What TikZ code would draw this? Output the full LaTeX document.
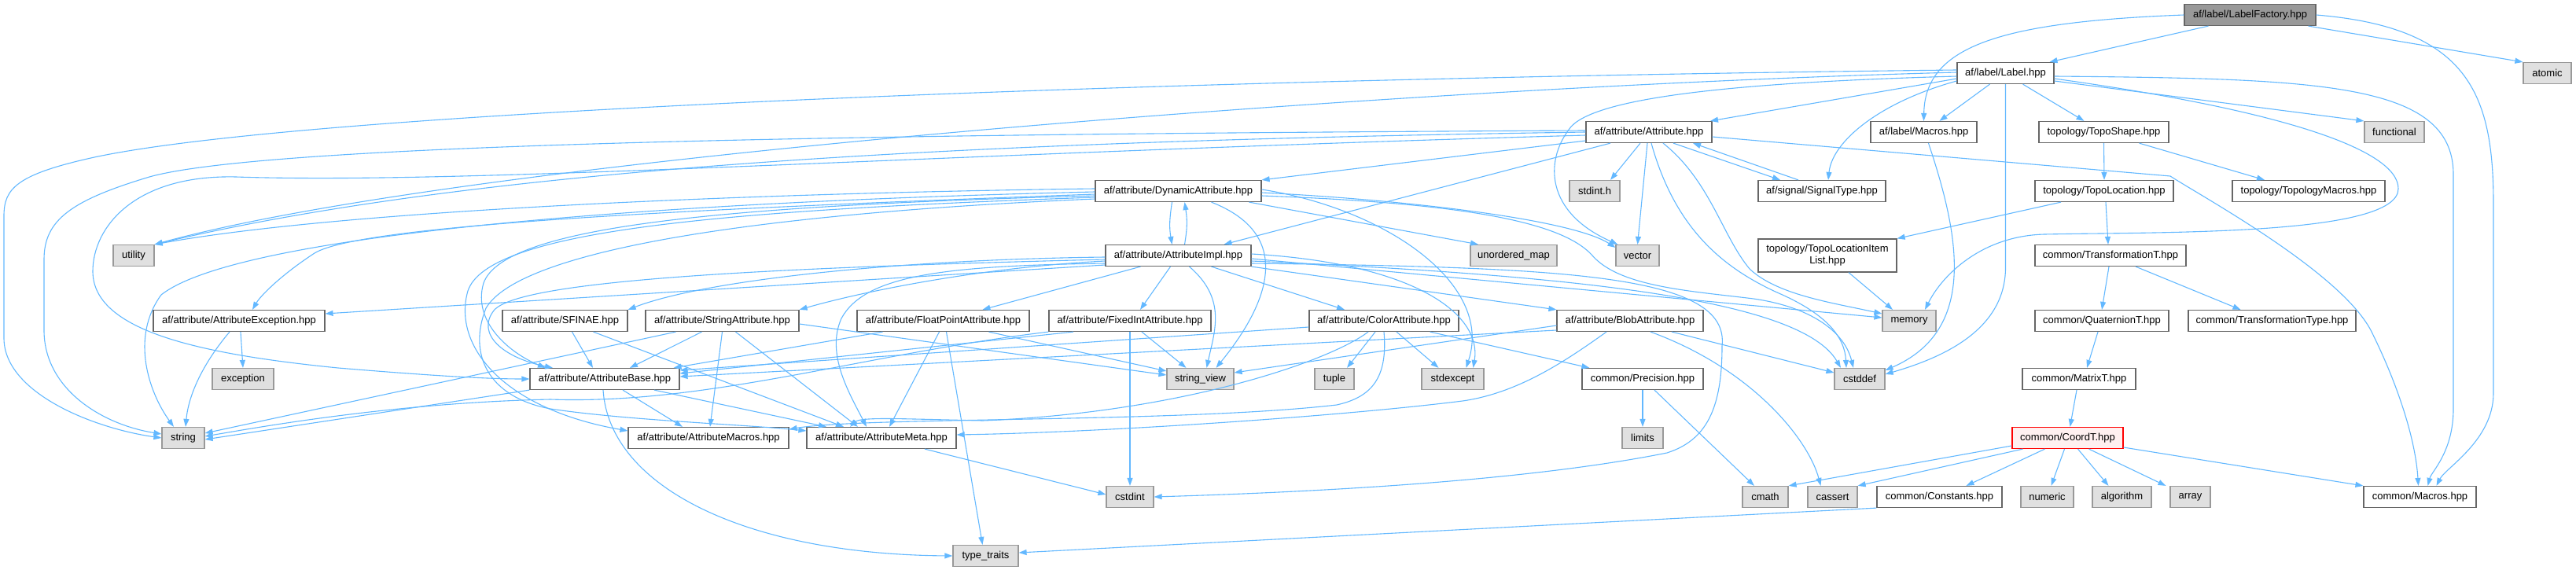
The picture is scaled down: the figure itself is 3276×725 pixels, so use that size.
\documentclass[tikz,border=0pt]{standalone}
\usepackage{fontspec}
\setmainfont{Liberation Sans}
\usetikzlibrary{arrows.meta}
\definecolor{edgeblue}{HTML}{63B8FF}
\definecolor{boxline}{HTML}{666666}
\definecolor{sysline}{HTML}{999999}
\definecolor{sysfill}{HTML}{E0E0E0}
\definecolor{topfill}{HTML}{999999}
\definecolor{focusfill}{HTML}{FFF0F0}
\begin{document}
\begin{tikzpicture}[x=1pt,y=-1pt,
  box/.style={rectangle,line width=1.2pt,inner sep=0pt,minimum height=27pt,font=\fontsize{13}{15}\selectfont},
  hdr/.style={box,draw=boxline,fill=white},
  sys/.style={box,draw=sysline,fill=sysfill},
  topbox/.style={box,draw=boxline,fill=topfill},
  focus/.style={box,draw=red,fill=focusfill},
  dep/.style={draw=edgeblue,line width=1.1pt,-{Triangle[length=10pt,width=7pt]}}]
\useasboundingbox (0,0) rectangle (3276,725);

\node[topbox, minimum width=167pt] (LabelFactory) at (2861.5,19) {af/label/LabelFactory.hpp};

\node[hdr, minimum width=123pt] (Label) at (2550.5,93) {af/label/Label.hpp};
\node[sys, minimum width=61pt] (atomic) at (3239.5,93) {atomic};

\node[hdr, minimum width=160pt] (Attribute) at (2097,168) {af/attribute/Attribute.hpp};
\node[hdr, minimum width=135pt] (LabelMacros) at (2446.5,168) {af/label/Macros.hpp};
\node[hdr, minimum width=165pt] (TopoShape) at (2675.5,168) {topology/TopoShape.hpp};
\node[sys, minimum width=76pt] (functional) at (3045,168) {functional};

\node[hdr, minimum width=211pt] (Dynamic) at (1498.5,243) {af/attribute/DynamicAttribute.hpp};
\node[sys, minimum width=64pt] (stdinth) at (2028,243) {stdint.h};
\node[hdr, minimum width=162pt] (SignalType) at (2317,243) {af/signal/SignalType.hpp};
\node[hdr, minimum width=176pt] (TopoLocation) at (2676,243) {topology/TopoLocation.hpp};
\node[hdr, minimum width=194pt] (TopologyMacros) at (2936,243) {topology/TopologyMacros.hpp};

\node[sys, minimum width=52pt] (utility) at (170,325) {utility};
\node[hdr, minimum width=185pt] (Impl) at (1498.5,325) {af/attribute/AttributeImpl.hpp};
\node[sys, minimum width=110pt] (unorderedmap) at (1925,325) {unordered\_map};
\node[sys, minimum width=55pt] (vector) at (2082.5,325) {vector};
\node[hdr, minimum width=176pt, minimum height=42pt, align=center] (ItemList) at (2324,325) {topology/TopoLocationItem\\List.hpp};
\node[hdr, minimum width=192pt] (TransformationT) at (2684,325) {common/TransformationT.hpp};

\node[hdr, minimum width=218pt] (Exception) at (304,408) {af/attribute/AttributeException.hpp};
\node[hdr, minimum width=159pt] (SFINAE) at (718.5,408) {af/attribute/SFINAE.hpp};
\node[hdr, minimum width=195pt] (StringAttr) at (918.5,408) {af/attribute/StringAttribute.hpp};
\node[hdr, minimum width=219pt] (FloatAttr) at (1199.5,408) {af/attribute/FloatPointAttribute.hpp};
\node[hdr, minimum width=206pt] (FixedAttr) at (1437,408) {af/attribute/FixedIntAttribute.hpp};
\node[hdr, minimum width=190pt] (ColorAttr) at (1760,408) {af/attribute/ColorAttribute.hpp};
\node[hdr, minimum width=186pt] (BlobAttr) at (2073,408) {af/attribute/BlobAttribute.hpp};
\node[sys, minimum width=68pt] (memory) at (2428,408) {memory};
\node[hdr, minimum width=170pt] (QuaternionT) at (2673,408) {common/QuaternionT.hpp};
\node[hdr, minimum width=213pt] (TransformationType) at (2889.5,408) {common/TransformationType.hpp};

\node[sys, minimum width=78pt] (exception) at (309,482) {exception};
\node[hdr, minimum width=190pt] (Base) at (769,482) {af/attribute/AttributeBase.hpp};
\node[sys, minimum width=85pt] (stringview) at (1526.5,482) {string\_view};
\node[sys, minimum width=50pt] (tuple) at (1697,482) {tuple};
\node[sys, minimum width=79pt] (stdexcept) at (1847.5,482) {stdexcept};
\node[hdr, minimum width=154pt] (Precision) at (2089,482) {common/Precision.hpp};
\node[sys, minimum width=64pt] (cstddef) at (2365,482) {cstddef};
\node[hdr, minimum width=144pt] (MatrixT) at (2644,482) {common/MatrixT.hpp};

\node[sys, minimum width=54pt] (string) at (233,557) {string};
\node[hdr, minimum width=204pt] (AttrMacros) at (901,557) {af/attribute/AttributeMacros.hpp};
\node[hdr, minimum width=190pt] (Meta) at (1121,557) {af/attribute/AttributeMeta.hpp};
\node[sys, minimum width=52pt] (limits) at (2089,557) {limits};
\node[focus, minimum width=141pt] (CoordT) at (2629.5,557) {common/CoordT.hpp};

\node[sys, minimum width=60pt] (cstdint) at (1437,632) {cstdint};
\node[sys, minimum width=58pt] (cmath) at (2245,632) {cmath};
\node[sys, minimum width=63pt] (cassert) at (2330.5,632) {cassert};
\node[hdr, minimum width=159pt] (Constants) at (2466.5,632) {common/Constants.hpp};
\node[sys, minimum width=67pt] (numeric) at (2603.5,632) {numeric};
\node[sys, minimum width=75pt] (algorithm) at (2698.5,632) {algorithm};
\node[sys, minimum width=51pt] (array) at (2785.5,632) {array};
\node[hdr, minimum width=143pt] (CommonMacros) at (3077.5,632) {common/Macros.hpp};

\node[sys, minimum width=83pt] (typetraits) at (1253.5,707) {type\_traits};

\draw[dep] ([xshift=-53pt]LabelFactory.south) -- ([xshift=56pt]Label.north);
\draw[dep] (LabelFactory.west) .. controls (2540,28) and (2448,60) .. (LabelMacros.north);
\draw[dep] ([xshift=74pt]LabelFactory.south) -- (atomic.north west);
\draw[dep] (LabelFactory.east) .. controls (3140,35) and (3171,120) .. (3171,260) -- (3171,500) .. controls (3171,560) and (3110,595) .. ([xshift=21pt]CommonMacros.north);

\draw[dep] ([yshift=-7pt]Label.west) -- ([xshift=78pt]Attribute.north);
\draw[dep] ([xshift=-20pt]Label.south) -- ([xshift=20pt]LabelMacros.north);
\draw[dep] ([xshift=22pt]Label.south) -- ([xshift=-25pt]TopoShape.north);
\draw[dep] ([yshift=-10pt]Label.east) -- (functional.north west);
\draw[dep] ([yshift=-7pt]Label.east) .. controls (2900,140) and (3050,190) .. (3050,240) .. controls (3050,300) and (2750,295) .. (2600,298) .. controls (2520,300) and (2470,350) .. ([xshift=20pt]memory.north);
\draw[dep] ([yshift=-4pt]Label.east) .. controls (2950,100) and (3118,105) .. (3120,220) -- (3120,520) .. controls (3120,575) and (3092,600) .. ([xshift=10pt]CommonMacros.north);
\draw[dep] (Label.south) -- (2550.5,340) .. controls (2550.5,420) and (2470,455) .. ([yshift=6pt]cstddef.east);
\draw[dep] ([yshift=-10pt]Label.west) .. controls (2390,130) and (2330,180) .. ([xshift=8pt]SignalType.north);
\draw[dep] ([yshift=-4pt]Label.west) .. controls (2200,105) and (2020,125) .. (1995,165) .. controls (1965,205) and (1965,270) .. ([xshift=3pt]vector.north west);
\draw[dep] ([yshift=4pt]Label.west) .. controls (1500,100) and (400,140) .. (120,200) .. controls (20,222) and (5,240) .. (5,275) -- (5,430) .. controls (5,500) and (120,545) .. (string.west);
\draw[dep] ([yshift=1pt]Label.west) .. controls (1800,110) and (600,200) .. (utility.north east);

\draw[dep] ([yshift=-11pt]Attribute.west) -- (Dynamic.north east);
\draw[dep] ([xshift=-49pt]Attribute.south) -- ([xshift=58pt]Impl.north);
\draw[dep] ([xshift=-11pt]Attribute.south) -- ([xshift=20pt]stdinth.north);
\draw[dep] ([xshift=-2pt]Attribute.south) -- (vector.north);
\draw[dep] ([xshift=3pt]Attribute.south) .. controls (2130,290) and (2190,340) .. (2260,372) .. controls (2325,400) and (2346,430) .. ([xshift=-17pt]cstddef.north);
\draw[dep] ([xshift=18pt]Attribute.south) .. controls (2175,230) and (2190,300) .. (2225,342) .. controls (2260,375) and (2330,385) .. ([yshift=9pt]memory.west);
\draw[dep] ([xshift=31pt]Attribute.south) -- ([xshift=-53pt]SignalType.north);
\draw[dep] ([xshift=-30pt]SignalType.north) -- ([xshift=56pt]Attribute.south);
\draw[dep] ([yshift=-6pt]Attribute.east) -- (2760,224) .. controls (2800,250) and (2975,345) .. (3015,420) .. controls (3050,490) and (3072,560) .. ([xshift=-2pt]CommonMacros.north);
\draw[dep] (Attribute.west) .. controls (1200,180) and (600,215) .. (utility.north east);
\draw[dep] ([yshift=2pt]Attribute.west) .. controls (1200,170) and (350,180) .. (190,225) .. controls (90,255) and (56,280) .. (56,330) -- (56,420) .. controls (56,495) and (130,540) .. ([yshift=5pt]string.west);
\draw[dep] ([yshift=-4pt]Attribute.west) .. controls (1200,195) and (600,235) .. (300,225) .. controls (170,222) and (118,290) .. (118,345) .. controls (118,420) and (250,450) .. (430,468) .. controls (550,478) and (620,482) .. (Base.west);

\draw[dep] ([xshift=-8pt]Dynamic.south) .. controls (1487,280) and (1487,290) .. ([xshift=-8pt]Impl.north);
\draw[dep] ([xshift=8pt]Impl.north) .. controls (1510,290) and (1510,280) .. ([xshift=8pt]Dynamic.south);
\draw[dep] ([xshift=42pt]Dynamic.south) .. controls (1650,300) and (1610,390) .. ([xshift=20pt]stringview.north);
\draw[dep] ([xshift=90pt]Dynamic.south) -- ([xshift=-45pt]unorderedmap.north);
\draw[dep] ([yshift=2pt]Dynamic.east) .. controls (1760,265) and (1900,360) .. ([xshift=17pt]stdexcept.north);
\draw[dep] ([yshift=-2pt]Dynamic.east) .. controls (1800,255) and (2000,280) .. ([yshift=-4pt]vector.north west);
\draw[dep] ([yshift=-6pt]Dynamic.east) .. controls (1850,258) and (1985,280) .. (2025,325) .. controls (2060,365) and (2150,370) .. (2230,380) .. controls (2300,390) and (2345,420) .. ([xshift=-8pt]cstddef.north);
\draw[dep] ([yshift=3pt]Dynamic.west) .. controls (1000,245) and (450,265) .. (utility.north east);
\draw[dep] ([yshift=-1pt]Dynamic.west) .. controls (800,258) and (300,300) .. (205,375) .. controls (165,430) and (190,500) .. ([xshift=-12pt]string.north);
\draw[dep] ([yshift=-4pt]Dynamic.west) .. controls (900,265) and (460,285) .. (400,322) .. controls (360,348) and (332,375) .. ([xshift=17pt]Exception.north);
\draw[dep] ([yshift=-6pt]Dynamic.west) .. controls (900,262) and (640,290) .. (615,360) .. controls (600,410) and (650,450) .. ([xshift=-75pt]Base.north);
\draw[dep] ([yshift=-8pt]Dynamic.west) .. controls (900,268) and (620,295) .. (595,370) .. controls (575,440) and (640,520) .. ([yshift=9pt]AttrMacros.west);
\draw[dep] ([yshift=-10pt]Dynamic.west) .. controls (950,272) and (660,320) .. (618,392) .. controls (595,450) and (620,505) .. (700,520) .. controls (800,535) and (950,540) .. ([yshift=9pt]Meta.west);

\draw[dep] ([xshift=-48pt]Impl.south) -- ([xshift=50pt]FloatAttr.north);
\draw[dep] ([xshift=-10pt]Impl.south) -- ([xshift=13pt]FixedAttr.north);
\draw[dep] ([xshift=14pt]Impl.south) .. controls (1560,380) and (1545,420) .. ([xshift=8pt]stringview.north);
\draw[dep] ([xshift=42pt]Impl.south) -- ([xshift=-50pt]ColorAttr.north);
\draw[dep] (Impl.south east) -- (BlobAttr.north west);
\draw[dep] ([yshift=2pt]Impl.east) .. controls (1800,335) and (1885,400) .. ([xshift=26pt]stdexcept.north);
\draw[dep] ([yshift=-4pt]Impl.east) -- ([yshift=4pt]memory.west);
\draw[dep] ([yshift=-7pt]Impl.east) .. controls (2000,350) and (2290,380) .. ([xshift=-24pt]cstddef.north);
\draw[dep] ([yshift=-10pt]Impl.east) .. controls (2000,340) and (2200,350) .. (2190,440) .. controls (2190,520) and (2170,560) .. (2120,576) .. controls (1950,610) and (1700,625) .. (cstdint.east);
\draw[dep] ([yshift=-2pt]Impl.west) .. controls (1150,330) and (900,355) .. (SFINAE.north east);
\draw[dep] ([yshift=-5pt]Impl.west) .. controls (1000,340) and (660,355) .. (628,395) .. controls (605,425) and (640,455) .. ([xshift=-66pt]Base.north);
\draw[dep] ([yshift=-7pt]Impl.west) .. controls (1250,340) and (1100,370) .. (StringAttr.north east);
\draw[dep] ([yshift=-10pt]Impl.west) .. controls (1200,338) and (1100,350) .. (1070,405) .. controls (1050,450) and (1080,500) .. ([xshift=-19pt]Meta.north);
\draw[dep] ([yshift=-12pt]Impl.west) -- ([yshift=9pt]Exception.east);

\draw[dep] ([xshift=2pt]Exception.south) -- (exception.north);
\draw[dep] ([xshift=-12pt]Exception.south) .. controls (260,460) and (240,500) .. ([xshift=3pt]string.north);
\draw[dep] ([xshift=9pt]SFINAE.south) -- ([xshift=-15pt]Base.north);
\draw[dep] ([xshift=36pt]SFINAE.south) -- ([xshift=-48pt]Meta.north);
\draw[dep] ([xshift=-59pt]StringAttr.south) -- ([yshift=6pt]string.east);
\draw[dep] ([xshift=-26pt]StringAttr.south) -- ([xshift=32pt]Base.north);
\draw[dep] (StringAttr.south) -- ([xshift=2pt]AttrMacros.north);
\draw[dep] ([xshift=17pt]StringAttr.south) -- ([xshift=-30pt]Meta.north);
\draw[dep] ([yshift=-4pt]StringAttr.east) -- ([yshift=5pt]stringview.west);
\draw[dep] ([xshift=-77pt]FloatAttr.south) -- ([xshift=-8pt]Base.north east);
\draw[dep] ([xshift=-5pt]FloatAttr.south) -- ([xshift=10pt]Meta.north);
\draw[dep] ([xshift=4pt]FloatAttr.south) -- ([xshift=-4pt]typetraits.north);
\draw[dep] ([xshift=58pt]FloatAttr.south) -- ([yshift=10pt]stringview.west);
\draw[dep] ([xshift=15pt]FixedAttr.south) -- ([xshift=-18pt]stringview.north);
\draw[dep] (FixedAttr.south) -- (cstdint.north);
\draw[dep] (FixedAttr.south west) .. controls (1100,450) and (900,515) .. (700,508) .. controls (500,512) and (320,545) .. ([yshift=2pt]string.east);
\draw[dep] ([xshift=-72pt]FixedAttr.south) -- ([yshift=7pt]Base.east);
\draw[dep] ([yshift=-8pt]ColorAttr.west) -- ([yshift=11pt]Base.east);
\draw[dep] ([xshift=-11pt]ColorAttr.south) -- ([xshift=16pt]tuple.north);
\draw[dep] ([xshift=16pt]ColorAttr.south) -- ([xshift=-18pt]stdexcept.north);
\draw[dep] ([xshift=-37pt]ColorAttr.south east) -- ([xshift=10pt]Precision.north west);
\draw[dep] ([xshift=-20pt]ColorAttr.south) .. controls (1690,460) and (1500,525) .. (1250,535) .. controls (1150,533) and (1095,530) .. ([xshift=-40pt]Meta.north);
\draw[dep] (ColorAttr.south) .. controls (1765,480) and (1745,505) .. (1700,515) .. controls (1500,538) and (1100,530) .. ([yshift=11pt]AttrMacros.east);
\draw[dep] ([yshift=-12pt]BlobAttr.west) -- ([yshift=3pt]Base.east);
\draw[dep] ([yshift=-6pt]BlobAttr.west) -- ([yshift=8pt]stringview.east);
\draw[dep] ([xshift=-30pt]BlobAttr.south) .. controls (1990,460) and (1930,500) .. (1860,510) .. controls (1700,530) and (1400,550) .. ([yshift=4pt]Meta.east);
\draw[dep] ([xshift=53pt]BlobAttr.south) -- ([yshift=8pt]cstddef.west);
\draw[dep] ([xshift=26pt]BlobAttr.south) .. controls (2230,470) and (2300,560) .. ([xshift=-15pt]cassert.north);

\draw[dep] ([xshift=-2pt]Base.south) .. controls (775,620) and (950,705) .. (typetraits.west);
\draw[dep] ([xshift=23pt]Base.south) -- ([xshift=-33pt]AttrMacros.north);
\draw[dep] ([xshift=63pt]Base.south) -- ([xshift=-70pt]Meta.north);
\draw[dep] (Base.south west) -- ([yshift=-2pt]string.east);
\draw[dep] ([xshift=55pt]Meta.south) -- ([yshift=3pt]cstdint.west);

\draw[dep] (TopoShape.south) -- (TopoLocation.north);
\draw[dep] ([xshift=45pt]TopoShape.south) -- ([xshift=-56pt]TopologyMacros.north);
\draw[dep] ([xshift=-55pt]TopoLocation.south) -- (ItemList.north east);
\draw[dep] ([xshift=2pt]TopoLocation.south) -- ([xshift=-3pt]TransformationT.north);
\draw[dep] ([xshift=-2pt]TransformationT.south) -- (QuaternionT.north);
\draw[dep] ([xshift=32pt]TransformationT.south) -- ([xshift=-40pt]TransformationType.north);
\draw[dep] ([xshift=-5pt]QuaternionT.south) -- ([xshift=10pt]MatrixT.north);
\draw[dep] ([xshift=-3pt]MatrixT.south) -- ([xshift=3pt]CoordT.north);
\draw[dep] ([xshift=27pt]ItemList.south) -- ([xshift=-21pt]memory.north);
\draw[dep] ([xshift=6pt]LabelMacros.south) .. controls (2492,300) and (2515,420) .. ([yshift=11pt]cstddef.east);
\draw[dep] (Precision.south) -- (limits.north);
\draw[dep] ([xshift=15pt]Precision.south) -- ([xshift=-14pt]cmath.north);

\draw[dep] ([yshift=-10pt]CoordT.west) -- (cmath.north east);
\draw[dep] ([xshift=-57pt]CoordT.south) -- (cassert.north east);
\draw[dep] ([xshift=-29pt]CoordT.south) -- ([xshift=34pt]Constants.north);
\draw[dep] ([xshift=-4pt]CoordT.south) -- ([xshift=5pt]numeric.north);
\draw[dep] ([xshift=13pt]CoordT.south) -- ([xshift=-17pt]algorithm.north);
\draw[dep] ([xshift=27pt]CoordT.south) -- ([xshift=-31pt]array.north);
\draw[dep] ([yshift=-12pt]CoordT.east) -- (CommonMacros.north west);
\draw[dep] (Constants.south west) -- ([yshift=4pt]typetraits.east);
\end{tikzpicture}
\end{document}
